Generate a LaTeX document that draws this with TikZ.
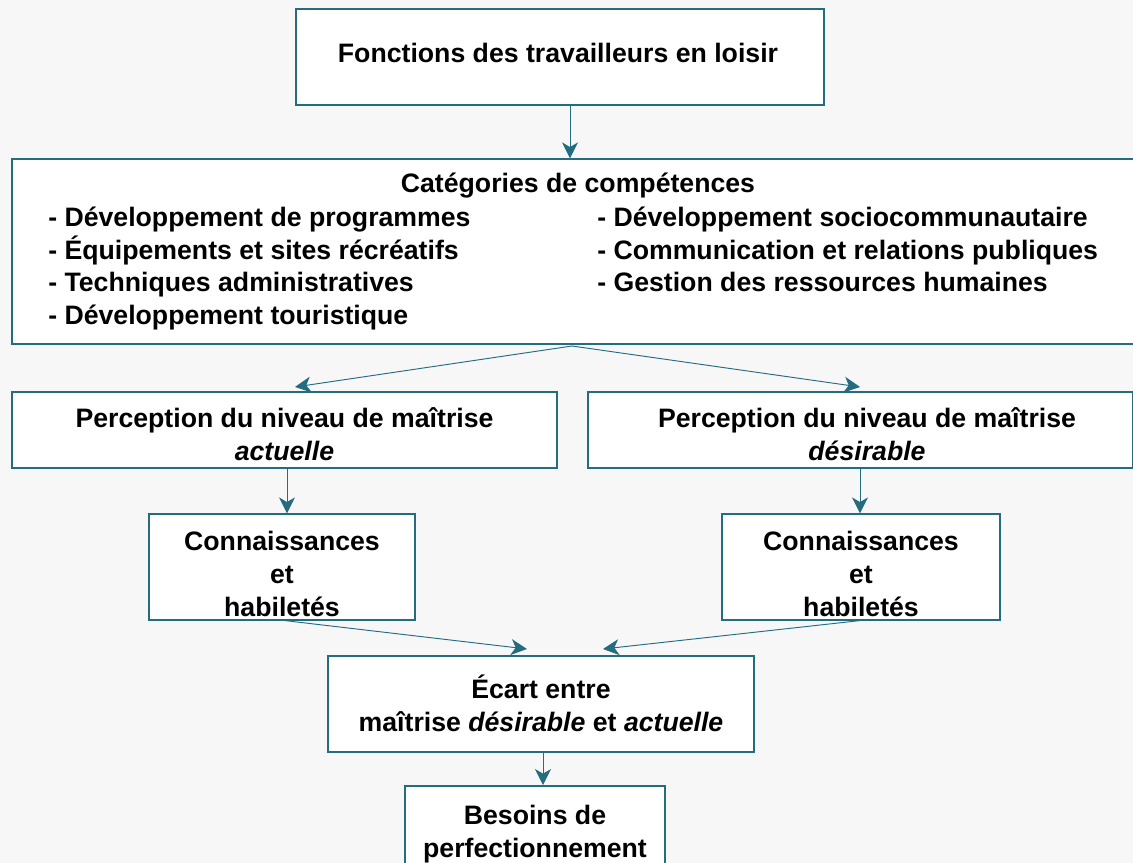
\documentclass[tikz,border=0pt]{standalone}
\usepackage{fontspec}
\setmainfont{Liberation Sans}
\usetikzlibrary{arrows.meta}
\definecolor{teal1}{RGB}{36,108,128}
\definecolor{bgc}{RGB}{247,247,247}
\tikzset{
  box/.style={draw=teal1, line width=0.9pt, fill=white, rectangle, inner sep=0pt},
  lbl/.style={font=\fontsize{20}{24.75}\selectfont\bfseries, align=center, inner sep=0pt},
  item/.style={font=\fontsize{20}{24.75}\selectfont\bfseries, anchor=base west, inner sep=0pt},
  conn/.style={draw=teal1, line width=0.7pt, -{Stealth[length=12pt,width=12pt,inset=3.5pt]}},
}
\begin{document}
\begin{tikzpicture}[x=0.75pt,y=-0.75pt]
\useasboundingbox (0,0) rectangle (1133,863);
\clip (0,0) rectangle (1133,863);
\fill[bgc] (0,0) rectangle (1133,863);
% boxes
\node[box, minimum width={528*0.75pt}, minimum height={96*0.75pt}] (top) at (560,57) {};
\node[lbl] (toptxt) at (558,53) {Fonctions des travailleurs en loisir};
\node[box, minimum width={1125*0.75pt}, minimum height={185*0.75pt}] (cat) at (574.5,251.5) {};
\node[lbl] (cattitle) at (578,186) {Catégories de compétences};
\node[item] (l1) at (48,227) {- Développement de programmes};
\node[item] (l2) at (48,260) {- Équipements et sites récréatifs};
\node[item] (l3) at (48,292) {- Techniques administratives};
\node[item] (l4) at (48,325) {- Développement touristique};
\node[item] (r1) at (597,227) {- Développement sociocommunautaire};
\node[item] (r2) at (597,260) {- Communication et relations publiques};
\node[item] (r3) at (597,292) {- Gestion des ressources humaines};
\node[box, minimum width={545*0.75pt}, minimum height={76*0.75pt}] (pa) at (284.5,430) {};
\node[lbl] (patxt) at (284.5,434) {Perception du niveau de maîtrise\\\textit{actuelle}};
\node[box, minimum width={545*0.75pt}, minimum height={76*0.75pt}] (pd) at (860.5,430) {};
\node[lbl] (pdtxt) at (867,434) {Perception du niveau de maîtrise\\\textit{désirable}};
\node[box, minimum width={266*0.75pt}, minimum height={106*0.75pt}] (ca) at (282,567) {};
\node[lbl] (catxt) at (282,574) {Connaissances\\et\\habiletés};
\node[box, minimum width={278*0.75pt}, minimum height={106*0.75pt}] (cd) at (861,567) {};
\node[lbl] (cdtxt) at (861,574) {Connaissances\\et\\habiletés};
\node[box, minimum width={426*0.75pt}, minimum height={96*0.75pt}] (ec) at (541,704) {};
\node[lbl] (ectxt) at (541,703) {Écart entre\\maîtrise \textit{désirable} et \textit{actuelle}};
\node[box, line width=1.5pt, minimum width={260*0.75pt}, minimum height={110*0.75pt}] (bs) at (535,841) {};
\node[lbl] (bstxt) at (535,834) {Besoins de\\perfectionnement};
% connectors
\coordinate (catb) at (572,346);
\draw[conn] (top.south -| 570,0) -- (cat.north -| 570,0);
\draw[conn] (catb) -- (295,387);
\draw[conn] (catb) -- (860,387);
\draw[conn] (pa.south -| 287,0) -- (ca.north -| 287,0);
\draw[conn] (pd.south -| 860,0) -- (cd.north -| 860,0);
\draw[conn] (ca.south -| 285,0) -- (527,649);
\draw[conn] (cd.south -| 860,0) -- (603,649);
\draw[conn] (ec.south -| 543,0) -- (bs.north -| 543,0);
\end{tikzpicture}
\end{document}
